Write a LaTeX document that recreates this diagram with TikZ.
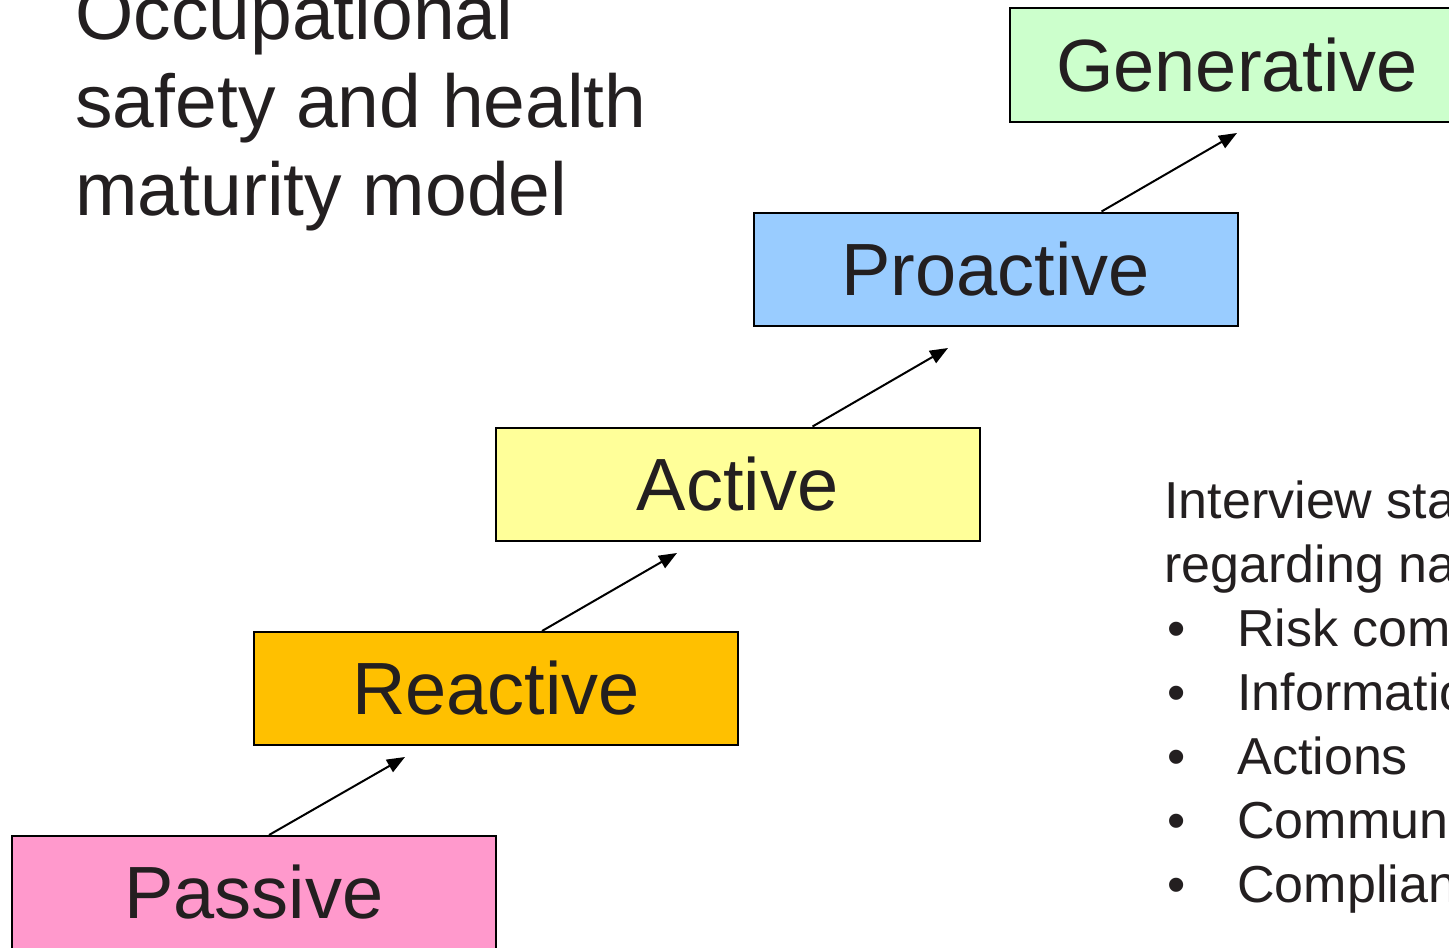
\documentclass[tikz,border=0pt]{standalone}
\usepackage{fontspec}
\setmainfont{Liberation Sans}
\usetikzlibrary{arrows.meta,positioning}
\definecolor{PassivePink}{HTML}{FF99CC}
\definecolor{ReactiveOrange}{HTML}{FFC000}
\definecolor{ActiveYellow}{HTML}{FFFF99}
\definecolor{ProactiveBlue}{HTML}{99CCFF}
\definecolor{GenerativeGreen}{HTML}{CCFFCC}
\definecolor{InkDark}{HTML}{231F20}
\tikzset{
  stagebox/.style={draw=black, line width=1pt, minimum width=242pt,
    minimum height=56.5pt, inner sep=0pt, text=InkDark,
    font=\fontsize{37}{44}\selectfont},
  stagearrow/.style={-{Triangle[length=9pt,width=7pt]}, line width=1pt, draw=black},
  titletext/.style={align=left, inner sep=0pt, text=InkDark,
    font=\fontsize{37.5}{44}\selectfont},
  notetext/.style={align=left, inner sep=0pt, text=InkDark,
    font=\fontsize{26}{32}\selectfont}
}
\newcommand{\itembullet}{\makebox[36.5pt][l]{\hspace{1.5pt}•}}

\begin{document}
\begin{tikzpicture}[x=0.5pt, y=-0.5pt]
      \useasboundingbox (0,0) rectangle (1449,947);
      \clip (0,0) rectangle (1449,947);
      % the five stages, stepping up to the right
      \node[stagebox, fill=PassivePink] (passive) at (254,892.5) {Passive};
      \node[stagebox, fill=ReactiveOrange] (reactive) at (496,688.5) {Reactive};
      \node[stagebox, fill=ActiveYellow] (active) at (737.5,484) {Active};
      \node[stagebox, fill=ProactiveBlue] (proactive) at (995.5,269) {Proactive};
      \node[stagebox, fill=GenerativeGreen, minimum width=227pt] (generative) at (1237,65) {Generative};
      % arrow tips stop short of the next box
      \coordinate (tip1) at (405,757);
      \coordinate (tip2) at (677,553);
      \coordinate (tip3) at (948,348);
      \coordinate (tip4) at (1237,133);
      \draw[stagearrow] ([xshift=129pt]passive.north west) -- (tip1);
      \draw[stagearrow] ([xshift=144.5pt]reactive.north west) -- (tip2);
      \draw[stagearrow] ([xshift=159pt]active.north west) -- (tip3);
      \draw[stagearrow] ([xshift=174.5pt]proactive.north west) -- (tip4);
      % texts, anchored at the baseline of their last line
      \node[titletext, anchor=base west] (title) at (75,215)
        {Occupational\\safety and health\\maturity model};
      \node[notetext, anchor=base west] (notes) at (1164,902)
        {Interview sta\\regarding na\\\itembullet Risk com\\\itembullet Informatio\\
         \itembullet Actions\\\itembullet Commun\\\itembullet Complian};
    \end{tikzpicture}
\end{document}
